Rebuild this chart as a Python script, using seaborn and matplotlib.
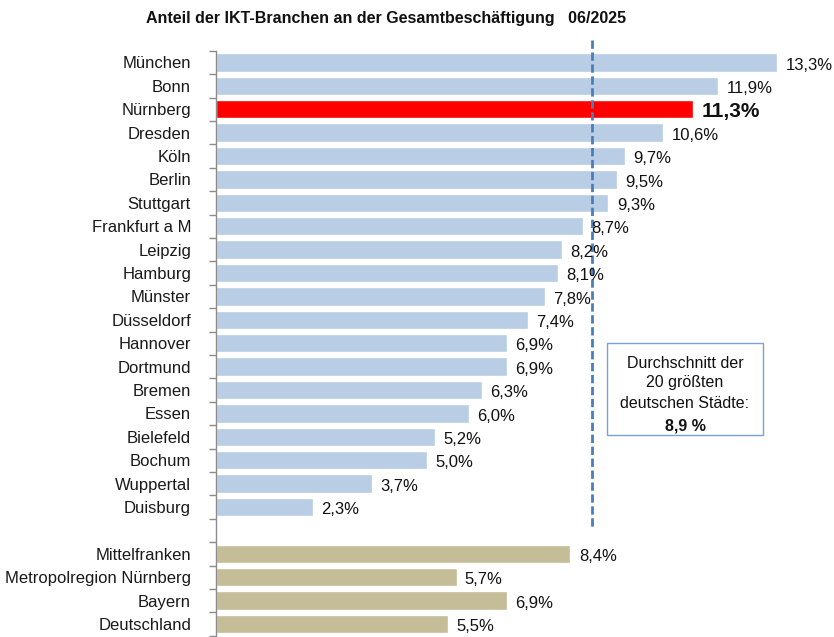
import matplotlib
matplotlib.use("Agg")
import matplotlib.pyplot as plt
import seaborn as sns
import pandas as pd
from matplotlib.patches import Rectangle

cities = ["München", "Bonn", "Nürnberg", "Dresden", "Köln", "Berlin", "Stuttgart",
          "Frankfurt a M", "Leipzig", "Hamburg", "Münster", "Düsseldorf", "Hannover",
          "Dortmund", "Bremen", "Essen", "Bielefeld", "Bochum", "Wuppertal", "Duisburg"]
city_values = [13.3, 11.9, 11.3, 10.6, 9.7, 9.5, 9.3, 8.7, 8.2, 8.1, 7.8, 7.4, 6.9,
               6.9, 6.3, 6.0, 5.2, 5.0, 3.7, 2.3]
regions = ["Mittelfranken", "Metropolregion Nürnberg", "Bayern", "Deutschland"]
region_values = [8.4, 5.7, 6.9, 5.5]
average = 8.9
highlight = "Nürnberg"
title = "Anteil der IKT-Branchen an der Gesamtbeschäftigung   06/2025"

sns.set_theme(style="white")
plt.rcParams['font.family'] = ['Liberation Sans', 'DejaVu Sans']

gap = " "
order = cities + [gap] + regions
df = pd.DataFrame({"name": cities + regions, "value": city_values + region_values})
palette = {gap: "#FFFFFF"}
for c in cities:
    palette[c] = "#FF0000" if c == highlight else "#B9CDE5"
for r in regions:
    palette[r] = "#C4BD97"

W, H = 834, 637
fig = plt.figure(figsize=(W / 100, H / 100), dpi=100)
ax_left, ax_right = 216, 830
ax_top, ax_bottom = 50.7, 635.7
ax = fig.add_axes([ax_left / W, 1 - ax_bottom / H, (ax_right - ax_left) / W, (ax_bottom - ax_top) / H])

sns.barplot(data=df, y="name", x="value", hue="name", order=order, hue_order=order,
            palette=palette, orient="h", width=0.78, legend=False, ax=ax, saturation=1)

ax.set_xlim(0, (ax_right - ax_left) / 42.2)
ax.set_ylim(len(order) - 0.5, -0.5)
ax.set_xlabel("")
ax.set_ylabel("")
ax.set_xticks([])
for s in ["top", "right", "bottom"]:
    ax.spines[s].set_visible(False)
ax.spines["left"].set_color("#8C8C8C")
ax.spines["left"].set_linewidth(1)

ax.set_yticks(range(len(order)))
ax.set_yticklabels(order, fontsize=12, color="#1a1a1a")
ax.tick_params(axis="y", which="major", left=True, length=0, pad=18)
ax.set_yticks([i - 0.5 for i in range(len(order) + 1)], minor=True)
ax.tick_params(axis="y", which="minor", left=True, length=5, width=1,
               color="#8C8C8C", direction="out")

for name, v in zip(df["name"], df["value"]):
    i = order.index(name)
    lab = f"{v:.1f}%".replace(".", ",")
    bold = name == highlight
    ax.annotate(lab, xy=(v, i), xytext=(6, -2), textcoords="offset points",
                va="center", ha="left", fontsize=15 if bold else 12,
                fontweight="bold" if bold else "normal", color="#111111")

ax.plot([average, average], [-0.96, 19.85], color="#4A7EBB", lw=2,
        linestyle=(0, (3, 1.3)), clip_on=False, zorder=1)

fig.text(386 / W, 1 - 18 / H, title, ha="center", va="center",
         fontsize=11.5, fontweight="bold", color="#111111")

bx0, bx1, by0, by1 = 607, 763, 343, 435
fig.patches.append(Rectangle((bx0 / W, 1 - by1 / H), (bx1 - bx0) / W, (by1 - by0) / H,
                             transform=fig.transFigure, facecolor="white",
                             edgecolor="#7BA0D4", lw=1))
box_lines = ["Durchschnitt der", "20 größten", "deutschen Städte:"]
ys = [363, 383, 403]
for t, yy in zip(box_lines, ys):
    fig.text(685 / W, 1 - yy / H, t, ha="center", va="center", fontsize=11.5, color="#111111")
fig.text(685 / W, 1 - 426 / H, f"{average:.1f} %".replace(".", ","), ha="center",
         va="center", fontsize=11.5, fontweight="bold", color="#111111")

fig.savefig("out.png", dpi=100)
